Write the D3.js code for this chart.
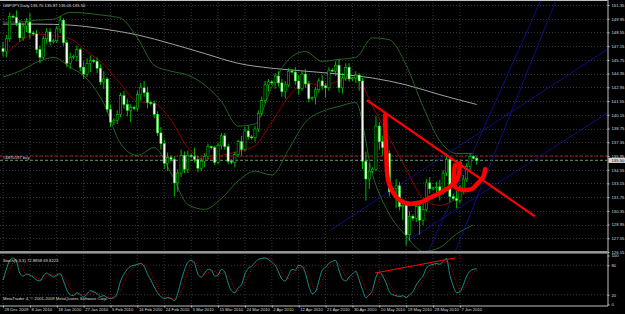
<!DOCTYPE html>
<html>
<head>
<meta charset="utf-8">
<script src="https://cdn.jsdelivr.net/npm/d3@7"></script>
<style>
  body { margin: 0; background: #000; }
  svg { display: block; }
  text { font-family: "Liberation Sans", Arial, sans-serif; font-size: 4.2px; fill: #dddddd; }
</style>
</head>
<body>
<svg width="625" height="314"></svg>
<script>
const svg = d3.select("svg")
const width = +svg.attr("width")
const height = +svg.attr("height")

// GBPJPY daily candles (bar index 0 = 29 Dec 2009)
const opens = [146.9,146.6,147.9,150.2,150.1,149.5,148.0,149.2,149.6,148.5,
  148.4,146.8,146.0,147.9,148.6,147.6,147.7,148.9,149.8,147.5,
  145.4,146.0,146.1,146.8,145.0,144.3,145.4,145.7,145.6,144.9,
  143.5,143.8,140.7,139.4,139.6,140.2,142.1,141.2,140.6,140.9,
  140.8,142.2,142.9,142.4,141.4,141.3,140.2,138.3,137.2,135.2,
  135.8,135.6,133.2,134.2,136.0,134.6,136.0,135.9,135.6,134.7,
  135.4,135.9,136.9,136.8,135.3,137.0,138.0,136.9,135.4,135.3,
  136.1,137.4,136.6,138.5,137.9,137.8,138.7,140.3,141.6,143.2,
  143.5,143.4,144.1,143.4,142.5,143.2,144.6,144.5,143.6,142.8,
  144.3,143.3,141.8,141.9,142.7,143.6,143.1,142.9,144.7,144.6,
  145.2,142.9,143.9,145.0,143.8,143.9,144.2,143.6,135.4,133.6,
  134.4,134.6,139.0,137.4,136.8,136.2,132.3,132.6,132.9,130.8,
  130.9,127.9,129.8,129.6,130.8,129.4,130.5,133.2,132.6,132.7,
  132.8,132.2,134.2,135.6,131.8,131.6,131.4,132.5,133.6,134.9,
  135.9,135.70]
const highs = [147.6,148.3,150.6,150.4,150.8,149.8,149.5,150.0,150.5,148.7,
  148.8,147.2,148.2,149.0,149.0,147.9,149.2,150.2,150.0,147.8,
  146.5,146.3,147.2,147.0,145.6,145.9,146.2,145.9,146.0,145.3,
  144.6,144.0,141.2,139.8,140.6,142.4,142.6,141.8,141.2,141.1,
  142.6,143.4,143.6,143.0,141.6,141.6,140.5,138.9,137.6,136.3,
  136.0,135.9,134.6,136.6,136.4,136.5,136.2,136.8,136.0,135.8,
  136.2,137.2,137.0,137.0,137.3,138.3,138.3,137.2,135.6,136.4,
  137.6,138.0,138.9,139.0,138.1,139.0,140.6,142.0,143.6,143.8,
  143.7,144.4,144.6,143.8,143.6,144.9,144.8,145.0,144.2,144.6,
  144.8,143.6,142.0,143.0,143.9,144.2,143.4,145.0,144.9,145.6,
  145.8,144.4,145.4,145.4,144.0,144.6,144.4,143.9,136.4,135.2,
  134.8,140.0,139.4,138.0,137.6,136.5,132.8,133.6,133.3,131.6,
  131.0,130.3,130.0,131.2,131.0,131.2,133.6,133.8,132.8,133.3,
  133.5,134.5,136.2,135.8,132.1,132.4,133.0,134.0,135.2,136.2,
  136.0,135.87]
const lows = [146.1,146.0,147.6,150.0,149.2,147.6,147.7,148.6,147.9,148.2,
  146.4,145.4,145.8,147.4,147.2,147.4,147.5,148.5,147.2,145.0,
  144.8,145.8,145.6,144.6,143.8,144.0,144.5,145.4,144.4,143.2,
  142.8,140.4,138.9,139.1,139.2,139.9,140.8,140.0,139.4,140.6,
  140.5,141.6,142.0,140.8,141.1,139.8,138.0,136.6,134.6,134.4,
  135.4,131.8,132.3,133.8,134.2,134.2,135.7,135.3,134.3,134.4,
  134.8,135.6,136.6,135.0,135.1,136.6,136.6,135.1,135.1,134.8,
  135.8,136.0,136.4,137.6,137.6,137.4,138.4,140.0,141.3,142.5,
  143.2,142.8,143.0,142.0,141.8,143.0,144.4,143.2,142.2,142.6,
  142.9,141.4,141.6,141.2,142.4,142.7,141.9,142.6,144.5,144.1,
  142.4,142.3,143.6,143.5,143.6,143.4,142.6,134.6,131.4,132.6,
  134.2,134.4,136.6,136.0,135.8,131.8,132.0,130.6,130.4,129.4,
  126.8,127.3,129.3,129.2,127.9,128.9,130.3,132.1,132.4,132.2,
  131.4,132.0,133.9,131.2,131.4,130.6,131.1,132.1,133.3,134.3,
  135.6,135.05]
const closes = [146.6,147.9,150.2,150.1,149.5,148.0,149.2,149.6,148.5,148.4,
  146.8,146.0,147.9,148.6,147.6,147.7,148.9,149.8,147.5,145.4,
  146.0,146.1,146.8,145.0,144.3,145.4,145.7,145.6,144.9,143.5,
  143.8,140.7,139.4,139.6,140.2,142.1,141.2,140.6,140.9,140.8,
  142.2,142.9,142.4,141.4,141.3,140.2,138.3,137.2,135.2,135.8,
  135.6,133.2,134.2,136.0,134.6,136.0,135.9,135.6,134.7,135.4,
  135.9,136.9,136.8,135.3,137.0,138.0,136.9,135.4,135.3,136.1,
  137.4,136.6,138.5,137.9,137.8,138.7,140.3,141.6,143.2,143.5,
  143.4,144.1,143.4,142.5,143.2,144.6,144.5,143.6,142.8,144.3,
  143.3,141.8,141.9,142.7,143.6,143.1,142.9,144.7,144.6,145.2,
  142.9,143.9,145.0,143.8,143.9,144.2,143.6,135.4,133.6,134.4,
  134.6,139.0,137.4,136.8,136.2,132.3,132.6,132.9,130.8,130.9,
  127.9,129.8,129.6,130.8,129.4,130.5,133.2,132.6,132.7,132.8,
  132.2,134.2,135.6,131.8,131.6,131.4,132.5,133.6,134.9,135.9,
  135.7,135.50]

// indicator lines sampled every 5 bars
const sampleBars = [0,5,10,15,20,25,30,35,40,45,50,55,60,65,70,75,80,85,90,95,100,105,110,115,120,125,130,135,140]
const redMA = [146.0,147.6,148.4,148.2,147.9,146.6,145.3,143.3,141.5,141.3,139.6,136.8,135.6,136.0,136.4,137.0,139.4,142.0,143.4,143.1,143.6,144.0,141.0,137.8,134.6,131.6,130.9,131.6,132.8]
const bandUpper = [149.6,149.6,149.8,149.9,150.6,150.5,150.3,150.0,148.0,145.2,144.6,144.2,143.2,141.5,139.0,139.2,143.0,145.8,146.6,145.6,145.8,146.0,148.0,147.8,145.2,141.0,137.5,136.2,136.2]
const bandLower = [144.0,144.6,145.5,146.0,145.0,143.8,141.3,137.2,136.0,136.8,134.2,131.0,130.5,131.6,133.4,134.4,134.0,136.6,139.4,140.5,141.0,141.4,134.0,130.0,127.8,126.2,126.6,128.0,128.9]
const slowBars = [0,10,20,30,40,50,60,70,80,90,100,110,120,130,141]
const slowMA = [149.4,149.4,149.3,148.9,148.3,147.4,146.4,145.4,144.9,144.6,144.3,143.9,143.2,142.2,141.2]

// Stochastic(5,3,3)
const stochMain = [50,72,90,95,88,64,58,62,60,56,50,48,58,64,60,56,60,63,48,30,
  20,18,24,20,15,22,28,26,22,16,18,14,12,14,24,48,62,72,78,80,
  82,84,78,62,50,36,24,16,12,14,12,8,22,48,70,86,90,84,62,56,
  64,72,70,58,60,72,66,44,28,24,34,40,62,74,78,86,92,94,95,92,
  86,80,66,52,48,60,72,70,80,78,64,38,22,26,48,70,76,84,88,90,
  70,52,48,56,62,68,50,30,14,20,30,56,66,58,44,26,20,18,16,18,
  14,20,26,40,50,58,74,80,82,84,82,88,94,60,38,24,26,40,58,68,
  72,72.8858]
const stochSignal = [50,60,71,86,91,82,70,61,60,59,55,51,52,57,61,60,59,60,57,47,
  33,23,21,21,20,19,22,25,25,21,19,16,15,13,17,29,45,61,71,77,
  80,82,81,75,63,49,37,25,17,14,13,11,14,26,47,68,82,87,79,67,
  61,64,69,67,63,63,66,61,46,32,29,33,45,59,71,79,85,91,94,94,
  91,86,77,66,55,53,60,67,74,76,74,60,41,29,32,48,65,77,83,87,
  83,71,57,52,55,62,60,49,31,21,21,35,51,60,56,43,30,21,18,17,
  16,17,20,29,39,49,61,71,79,82,83,85,88,81,64,41,29,30,41,55,
  66,69.8223]

// axis ticks
const priceTicks = [126.15,127.55,128.95,130.35,131.75,133.15,134.55,135.95,137.35,138.75,140.15,141.55,142.95,144.35,145.75,147.15,148.55,149.95,151.35]
const stochTicks = [0,20,80,100]
const dateBars = [0,8,16,24,32,40,48,56,64,72,80,88,96,104,112,120,128,136]
const dateLabels = ["29 Dec 2009","8 Jan 2010","18 Jan 2010","27 Jan 2010","5 Feb 2010","16 Feb 2010","24 Feb 2010","5 Mar 2010","15 Mar 2010","24 Mar 2010","2 Apr 2010","12 Apr 2010","21 Apr 2010","30 Apr 2010","10 May 2010","19 May 2010","28 May 2010","7 Jun 2010"]

// trend lines as [bar, price]
const blueLines = [
  [[97.3,128.36],[180.1,146.88]],
  [[119.6,127.13],[180.1,140.37]],
  [[126.5,126.11],[160.1,151.86]],
  [[134.5,126.11],[164.6,151.86]]
]
const redTrend = [[108.3,141.64],[158.3,129.79]]
const redCup = [[113.7,140.1],[114.0,136.8],[114.6,133.5],[115.8,132.4],[118.2,131.4],[120.5,131.1],[124.1,131.2],[127.1,131.7],[130.1,132.2],[133.0,132.8],[135.1,133.5],[135.7,134.2],[136.0,135.2]]
const redCup2 = [[134.5,135.0],[134.5,132.8],[136.9,132.5],[139.6,132.6],[141.4,133.2],[142.9,133.8],[143.5,134.6]]
const stochTrend = [[110.7,64.3],[134.5,94.9]]

const orderPrice = 135.95
const bidPrice = 135.50

const plotRight = 607.5
const mainBottom = 252
const stochTop = 253
const stochBottom = 305.5

const xScale = d3.scaleLinear().domain([0, 180]).range([3, 3 + 3.36 * 180])
const yScale = d3.scaleLinear().domain([126.15, 151.35]).range([252, 5])
const sScale = d3.scaleLinear().domain([0, 100]).range([304.5, 255.5])

svg.append("rect").attr("width", width).attr("height", height).attr("fill", "#000")

const defs = svg.append("defs")
defs.append("clipPath").attr("id", "clipMain")
  .append("rect").attr("x", 0).attr("y", 0).attr("width", plotRight).attr("height", mainBottom)
defs.append("clipPath").attr("id", "clipStoch")
  .append("rect").attr("x", 0).attr("y", stochTop).attr("width", plotRight).attr("height", stochBottom - stochTop)

// grid
const grid = svg.append("g")
  .attr("stroke", "#4d5a68").attr("stroke-width", 0.6).attr("stroke-dasharray", "1,2")
grid.selectAll(".hg").data(priceTicks).join("line")
  .attr("x1", 0).attr("x2", plotRight)
  .attr("y1", (d) => Math.round(yScale(d)) + 0.5).attr("y2", (d) => Math.round(yScale(d)) + 0.5)
grid.selectAll(".vg").data(dateBars).join("line")
  .attr("x1", (d) => xScale(d)).attr("x2", (d) => xScale(d))
  .attr("y1", 0).attr("y2", stochBottom)
grid.selectAll(".sg").data([20, 80]).join("line")
  .attr("x1", 0).attr("x2", plotRight)
  .attr("y1", (d) => sScale(d)).attr("y2", (d) => sScale(d))

const main = svg.append("g").attr("clip-path", "url(#clipMain)")

// order / bid lines
main.append("line")
  .attr("x1", 0).attr("x2", plotRight)
  .attr("y1", yScale(orderPrice)).attr("y2", yScale(orderPrice))
  .attr("stroke", "#b01818").attr("stroke-width", 1).attr("stroke-dasharray", "3,2")
main.append("line")
  .attr("x1", 0).attr("x2", plotRight)
  .attr("y1", yScale(bidPrice)).attr("y2", yScale(bidPrice))
  .attr("stroke", "#4f7d5f").attr("stroke-width", 1.3).attr("stroke-dasharray", "3,2")
svg.append("text").attr("x", 3).attr("y", yScale(bidPrice) - 1).text("#4870197 buy")

// bands and averages
const sampleLine = (bars) => d3.line()
  .x((d, i) => xScale(bars[i]))
  .y((d) => yScale(d))
  .curve(d3.curveMonotoneX)

main.append("path").datum(slowMA)
  .attr("d", sampleLine(slowBars)).attr("fill", "none")
  .attr("stroke", "#c8c8c8").attr("stroke-width", 0.8)
main.append("path").datum(bandUpper)
  .attr("d", sampleLine(sampleBars)).attr("fill", "none")
  .attr("stroke", "#2b7d2b").attr("stroke-width", 0.8)
main.append("path").datum(bandLower)
  .attr("d", sampleLine(sampleBars)).attr("fill", "none")
  .attr("stroke", "#2b7d2b").attr("stroke-width", 0.8)
main.append("path").datum(redMA)
  .attr("d", sampleLine(sampleBars)).attr("fill", "none")
  .attr("stroke", "#b00000").attr("stroke-width", 0.8)

// blue lines
const barLine = d3.line().x((d) => xScale(d[0])).y((d) => yScale(d[1]))
main.selectAll(".blue").data(blueLines).join("path")
  .attr("d", barLine).attr("fill", "none")
  .attr("stroke", "#1414b4").attr("stroke-width", 0.7)

// candles
const candles = opens.map((o, i) => ({ i, o, h: highs[i], l: lows[i], c: closes[i] }))
const cg = main.append("g")
cg.selectAll(".wick").data(candles).join("line")
  .attr("x1", (d) => xScale(d.i)).attr("x2", (d) => xScale(d.i))
  .attr("y1", (d) => yScale(d.h)).attr("y2", (d) => yScale(d.l))
  .attr("stroke", "#00e800").attr("stroke-width", 0.8)
cg.selectAll(".body").data(candles).join("rect")
  .attr("x", (d) => xScale(d.i) - 1.1)
  .attr("width", 2.2)
  .attr("y", (d) => yScale(Math.max(d.o, d.c)))
  .attr("height", (d) => Math.max(0.6, Math.abs(yScale(d.o) - yScale(d.c))))
  .attr("fill", (d) => (d.c >= d.o ? "#000" : "#f4fff4"))
  .attr("stroke", "#00e800").attr("stroke-width", 0.5)

// hand drawn red marks
main.append("path").datum(redTrend)
  .attr("d", barLine).attr("fill", "none")
  .attr("stroke", "#ff0000").attr("stroke-width", 2.2)
const cupLine = d3.line().x((d) => xScale(d[0])).y((d) => yScale(d[1])).curve(d3.curveCatmullRom)
main.append("path").datum(redCup)
  .attr("d", cupLine).attr("fill", "none")
  .attr("stroke", "#ff0000").attr("stroke-width", 4.5)
  .attr("stroke-linecap", "round").attr("stroke-linejoin", "round")
main.append("path").datum(redCup2)
  .attr("d", cupLine).attr("fill", "none")
  .attr("stroke", "#ff0000").attr("stroke-width", 4.5)
  .attr("stroke-linecap", "round").attr("stroke-linejoin", "round")

// stochastic
const stoch = svg.append("g").attr("clip-path", "url(#clipStoch)")
const stochLine = d3.line().x((d, i) => xScale(i)).y((d) => sScale(d)).curve(d3.curveMonotoneX)
stoch.append("path").datum(stochSignal)
  .attr("d", stochLine).attr("fill", "none")
  .attr("stroke", "#e00000").attr("stroke-width", 0.8).attr("stroke-dasharray", "1,1.3")
stoch.append("path").datum(stochMain)
  .attr("d", stochLine).attr("fill", "none")
  .attr("stroke", "#20b2aa").attr("stroke-width", 0.8)
stoch.append("path").datum(stochTrend)
  .attr("d", d3.line().x((d) => xScale(d[0])).y((d) => sScale(d[1])))
  .attr("fill", "none").attr("stroke", "#ff0000").attr("stroke-width", 1.2)

// frame
const frame = svg.append("g").attr("stroke", "#c0c0c0").attr("fill", "none")
frame.append("line").attr("x1", 0).attr("x2", plotRight).attr("y1", 0.5).attr("y2", 0.5).attr("stroke-width", 1)
frame.append("line").attr("x1", 0).attr("x2", plotRight).attr("y1", mainBottom).attr("y2", mainBottom).attr("stroke-width", 1.4)
frame.append("line").attr("x1", 0).attr("x2", plotRight).attr("y1", stochTop + 0.3).attr("y2", stochTop + 0.3).attr("stroke-width", 0.6)

// price axis
const yAxis = d3.axisRight(yScale).tickValues(priceTicks).tickSize(2).tickPadding(2)
  .tickFormat((d) => d.toFixed(2))
const yAxisG = svg.append("g").attr("transform", `translate(${plotRight},0)`).call(yAxis)
yAxisG.select(".domain").attr("stroke", "#c0c0c0").attr("d", `M0.5,0V${mainBottom}`)
yAxisG.selectAll(".tick line").attr("stroke", "#c0c0c0")
yAxisG.selectAll("text").attr("fill", "#dddddd").style("font-size", "4.2px")

// bid price marker
const bidG = svg.append("g").attr("transform", `translate(${plotRight + 1},${yScale(bidPrice)})`)
bidG.append("rect").attr("x", 0).attr("y", -2.6).attr("width", 17).attr("height", 5.2).attr("fill", "#d8d8d8")
bidG.append("text").attr("x", 3).attr("y", 1.6).attr("fill", "#000").style("fill", "#000").text(bidPrice.toFixed(2))

// stoch axis
const sAxis = d3.axisRight(sScale).tickValues(stochTicks).tickSize(2).tickPadding(2)
const sAxisG = svg.append("g").attr("transform", `translate(${plotRight},0)`).call(sAxis)
sAxisG.select(".domain").attr("stroke", "#c0c0c0").attr("d", `M0.5,${stochTop}V${stochBottom}`)
sAxisG.selectAll(".tick line").attr("stroke", "#c0c0c0")
sAxisG.selectAll("text").attr("fill", "#dddddd").style("font-size", "4.2px")

// time axis
const xAxis = d3.axisBottom(xScale).tickValues(dateBars).tickSize(2).tickPadding(1)
  .tickFormat((d, i) => dateLabels[i])
const xAxisG = svg.append("g").attr("transform", `translate(0,${stochBottom})`).call(xAxis)
xAxisG.select(".domain").attr("stroke", "#c0c0c0").attr("d", `M0,0.5H${plotRight + 0.5}`)
xAxisG.selectAll(".tick line").attr("stroke", "#c0c0c0")
xAxisG.selectAll("text").attr("fill", "#dddddd").style("font-size", "4.2px")
  .attr("text-anchor", "start").attr("dx", "1")

// labels
svg.append("text").attr("x", 3).attr("y", 7).text("GBPJPY,Daily  135.70 135.87 135.05 135.50")
svg.append("text").attr("x", 3).attr("y", 262).text("Stoch(5,3,3) 72.8858 69.8223")
svg.append("text").attr("x", 3).attr("y", 299.5).text("MetaTrader 4, © 2001-2009 MetaQuotes Software Corp.")
</script>
</body>
</html>
